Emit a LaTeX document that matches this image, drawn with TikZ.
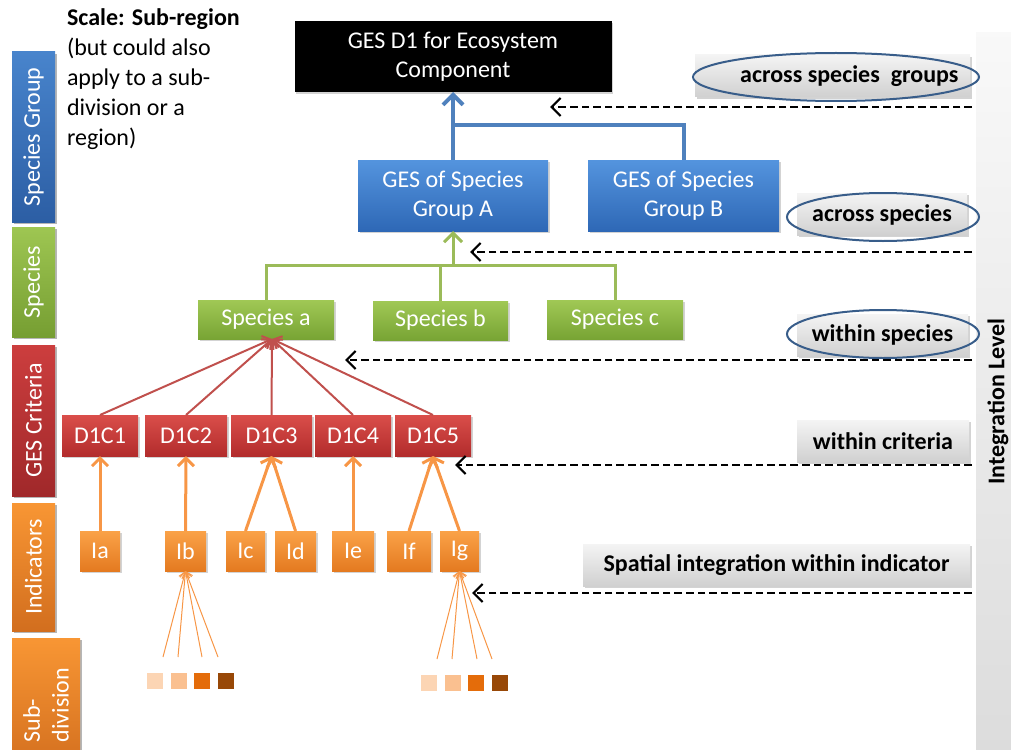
\documentclass[tikz,border=0pt]{standalone}
\usepackage{fontspec}
\setmainfont{Carlito}
\usepackage{tikz}
\usetikzlibrary{arrows.meta}
\usetikzlibrary{shapes.geometric,shadows}

\definecolor{conblue}{RGB}{79,129,189}
\definecolor{congreen}{RGB}{155,187,89}
\definecolor{conred}{RGB}{192,80,77}
\definecolor{conorange}{RGB}{247,150,70}
\definecolor{ringblue}{RGB}{56,93,138}
\definecolor{sub1}{RGB}{252,213,180}
\definecolor{sub2}{RGB}{250,192,144}
\definecolor{sub3}{RGB}{228,108,10}
\definecolor{sub4}{RGB}{152,72,7}

\begin{document}
\begin{tikzpicture}[x=0.5pt,y=-0.5pt,
        every node/.style={inner sep=0pt,outer sep=0pt,font=\fontsize{12}{14.4}\selectfont},
        shade/.style={drop shadow={opacity=0.35,shadow xshift=0.8pt,shadow yshift=-0.8pt}},
        levelbox/.style={shade,text=white,align=center},
        blbox/.style={levelbox,top color={rgb,255:red,84;green,148;blue,222},bottom color={rgb,255:red,46;green,104;blue,182}},
        grbox/.style={levelbox,top color={rgb,255:red,160;green,200;blue,85},bottom color={rgb,255:red,120;green,164;blue,52}},
        rdbox/.style={levelbox,top color={rgb,255:red,218;green,78;blue,74},bottom color={rgb,255:red,178;green,44;blue,44}},
        orbox/.style={levelbox,top color={rgb,255:red,250;green,162;blue,72},bottom color={rgb,255:red,228;green,122;blue,32}},
        band/.style={levelbox,rotate=90,minimum height=21.5pt},
        tag/.style={shade,font=\fontsize{12}{14.4}\selectfont\bfseries,top color={rgb,255:red,244;green,244;blue,244},bottom color={rgb,255:red,208;green,208;blue,208},minimum height=21pt},
        ring/.style={ellipse,draw=ringblue,line width=1pt,minimum height=24pt},
        subsq/.style={minimum width=8pt,minimum height=8pt},
        levelarrow/.style={-{Straight Barb[length=4.5pt,width=9pt,line width=1.1pt]},line width=1.4pt,dash pattern=on 3.8pt off 2pt},
        bluecon/.style={conblue,line width=2pt},
        greencon/.style={congreen,line width=1.5pt},
        redcon/.style={conred,line width=1pt,-{Straight Barb[length=3.5pt,width=7pt]}},
        orcon/.style={conorange,line width=1.5pt,-{Straight Barb[length=4pt,width=8pt]}},
        thincon/.style={conorange,line width=0.5pt,-{Straight Barb[length=3pt,width=5pt]}}]
\useasboundingbox (0,0) rectangle (1011,749);

% integration bar and left bands
\node[rotate=90,minimum width=368.5pt,minimum height=22pt,top color=gray!5,bottom color=gray!28,font=\fontsize{12}{14.4}\selectfont\bfseries] (intbar) at (998,401.5) {Integration Level};
\node[band,blbox,top color={rgb,255:red,72;green,132;blue,204},bottom color={rgb,255:red,44;green,94;blue,164},minimum width=85pt] (bgroup) at (33.5,137) {Species Group};
\node[band,grbox,top color={rgb,255:red,158;green,198;blue,82},bottom color={rgb,255:red,118;green,158;blue,50},minimum width=55pt] (bspec) at (33.5,282) {Species};
\node[band,rdbox,top color={rgb,255:red,204;green,62;blue,62},bottom color={rgb,255:red,160;green,40;blue,42},minimum width=75.5pt] (bcrit) at (33.5,420.5) {GES Criteria};
\node[band,orbox,top color={rgb,255:red,248;green,150;blue,52},bottom color={rgb,255:red,210;green,110;blue,30},minimum width=64pt] (bind) at (33.5,567) {Indicators};
\node[band,orbox,top color={rgb,255:red,248;green,150;blue,52},bottom color={rgb,255:red,210;green,110;blue,30},minimum width=67pt,minimum height=34pt,align=left] (bsub) at (46,705) {Sub-\\division};

\node[anchor=north west,align=left,font=\fontsize{12}{15}\selectfont] (scale) at (67,9) {\textbf{Scale: Sub-region}\\(but could also\\apply to a sub-\\division or a\\region)};

% hierarchy boxes
\node[levelbox,fill=black,minimum width=158.5pt,minimum height=35.5pt] (ges) at (453,56.5) {GES D1 for Ecosystem\\Component};
\node[blbox,minimum width=95pt,minimum height=35.5pt] (grpA) at (453,195.5) {GES of Species\\Group A};
\node[blbox,minimum width=95.5pt,minimum height=35.5pt] (grpB) at (683.5,195.5) {GES of Species\\Group B};

\node[grbox,minimum width=68pt,minimum height=19.5pt] (spa) at (266,319.5) {Species a};
\node[grbox,minimum width=67.5pt,minimum height=19.5pt] (spb) at (440.5,320.5) {Species b};
\node[grbox,minimum width=68pt,minimum height=19.5pt] (spc) at (615,319.5) {Species c};

\node[rdbox,minimum width=38pt,minimum height=20.5pt] (c1) at (100,435.5) {D1C1};
\node[rdbox,minimum width=41pt,minimum height=20.5pt] (c2) at (186,435.5) {D1C2};
\node[rdbox,minimum width=40.5pt,minimum height=20.5pt] (c3) at (271.5,435.5) {D1C3};
\node[rdbox,minimum width=38pt,minimum height=20.5pt] (c4) at (353,435.5) {D1C4};
\node[rdbox,minimum width=38pt,minimum height=20.5pt] (c5) at (433,435.5) {D1C5};

\node[orbox,minimum width=20pt,minimum height=20pt] (ia) at (100,551) {Ia};
\node[orbox,minimum width=20.5pt,minimum height=20pt] (ib) at (185.5,551) {Ib};
\node[orbox,minimum width=19.5pt,minimum height=20pt] (ic) at (245.5,551) {Ic};
\node[orbox,minimum width=20.5pt,minimum height=20pt] (id) at (295.5,551) {Id};
\node[orbox,minimum width=21pt,minimum height=20pt] (ie) at (353,551) {Ie};
\node[orbox,minimum width=22pt,minimum height=20pt] (if) at (409,551) {If};
\node[orbox,minimum width=19.5pt,minimum height=20pt] (ig) at (459.5,551) {Ig};

\node[subsq,fill=sub1] (sb1) at (155,681) {};
\node[subsq,fill=sub2] (sb2) at (178.5,681) {};
\node[subsq,fill=sub3] (sb3) at (202,681) {};
\node[subsq,fill=sub4] (sb4) at (226,681) {};
\node[subsq,fill=sub1] (sg1) at (429,683) {};
\node[subsq,fill=sub2] (sg2) at (453,683) {};
\node[subsq,fill=sub3] (sg3) at (476,683) {};
\node[subsq,fill=sub4] (sg4) at (500,683) {};

% integration labels
\node[tag,minimum width=137.5pt,inner xsep=5.75pt] (tgroups) at (832.5,76) {\makebox[126pt][r]{across species \ groups}};
\node[tag,minimum width=85pt] (tspecies) at (882,214.5) {across species};
\node[tag,minimum width=85.5pt] (twithin) at (882.5,335) {within species};
\node[tag,minimum width=86pt] (tcrit) at (883,441) {within criteria};
\node[tag,minimum width=193.5pt] (tspatial) at (776.5,565) {Spatial integration within indicator};
\node[ring,minimum width=143pt] (rgroups) at (836,77) {};
\node[ring,minimum width=96pt] (rspecies) at (883,217) {};
\node[ring,minimum width=96pt] (rwithin) at (883,334) {};

% connectors
\coordinate (bjoin) at (453,125);
\coordinate (gjoin) at (453,265);
\draw[bluecon] (grpB.north) |- (bjoin);
\draw[bluecon,-{Straight Barb[length=5pt,width=10pt]}] (grpA.north) -- (ges.south);
\draw[greencon] (spa.north) |- (gjoin) -| (spc.north);
\draw[greencon] (spb.north) -- (spb.north |- gjoin);
\draw[greencon,-{Straight Barb[length=4.5pt,width=9pt]}] (gjoin) -- (grpA.south);
\foreach \c in {c1,c2,c3,c4,c5}
  \draw[redcon] (\c.north) -- ([xshift=3pt]spa.south);
\draw[orcon] (ia.north) -- (c1.south);
\draw[orcon] (ib.north) -- (c2.south);
\draw[orcon] (ic.north) -- (c3.south);
\draw[orcon] (id.north) -- (c3.south);
\draw[orcon] (ie.north) -- (c4.south);
\draw[orcon] (if.north) -- (c5.south);
\draw[orcon] (ig.north) -- (c5.south);
\foreach \x [count=\i] in {163,178,202,218}
  \coordinate (fb\i) at (\x,657);
\foreach \x [count=\i] in {437,452,477,492}
  \coordinate (fg\i) at (\x,659);
\foreach \i in {1,...,4} {
  \draw[thincon] (fb\i) -- (ib.south);
  \draw[thincon] (fg\i) -- (ig.south);
}

% level arrows
\foreach \y/\x [count=\i] in {107/550,252/470,360/345,465/455,593/472} {
  \coordinate (ls\i) at (972,\y);
  \coordinate (le\i) at (\x,\y);
  \draw[levelarrow] (ls\i) -- (le\i);
}
\end{tikzpicture}
\end{document}
